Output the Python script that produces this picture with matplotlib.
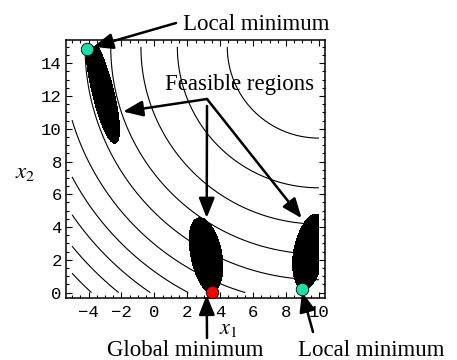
import numpy as np
import matplotlib
matplotlib.use("Agg")
import matplotlib.pyplot as plt
from matplotlib.ticker import MultipleLocator

# problem domain
x1_range = [-5.0, 10.0]
x2_range = [0.0, 15.0]

# objective f = -(x1 - 10)^2 - (x2 - 15)^2, contour levels
obj_center = [10.0, 15.0]
obj_levels = [-416, -373, -330, -288, -245, -202, -160, -117, -74, -31]

# constraint: Branin(x) <= 5 gives the black feasible regions
branin_limit = 5.0

# marked optima
local_min_x1 = [-4.1, 9.0]
local_min_x2 = [14.9, 0.2]
global_min_x1 = [3.5]
global_min_x2 = [0.05]

xticks = [-4, -2, 0, 2, 4, 6, 8, 10]
yticks = [0, 2, 4, 6, 8, 10, 12, 14]


def branin(x1, x2):
    b = 5.1 / (4 * np.pi ** 2)
    c = 5 / np.pi
    t = 1 / (8 * np.pi)
    return (x2 - b * x1 ** 2 + c * x1 - 6) ** 2 + 10 * (1 - t) * np.cos(x1) + 10


def objective(x1, x2):
    return -(x1 - obj_center[0]) ** 2 - (x2 - obj_center[1]) ** 2


plt.rcParams["font.family"] = ["Liberation Serif", "DejaVu Serif"]
plt.rcParams["mathtext.fontset"] = "stix"

W, H = 457, 360
fig = plt.figure(figsize=(W / 100, H / 100), dpi=100)
ax = fig.add_axes([66 / W, 62 / H, 259 / W, 258 / H])

g1 = np.linspace(*x1_range, 500)
g2 = np.linspace(*x2_range, 500)
X1, X2 = np.meshgrid(g1, g2)

ax.contour(X1, X2, objective(X1, X2), levels=obj_levels, colors="k",
           linewidths=0.8, linestyles="solid", zorder=1)
ax.contourf(X1, X2, branin(X1, X2), levels=[0, branin_limit], colors="k", zorder=2)

ax.plot(local_min_x1, local_min_x2, "o", ms=9, mfc="#20dca8", mec="k", mew=0.6, zorder=4, clip_on=False)
ax.plot(global_min_x1, global_min_x2, "o", ms=9, mfc="#ff0000", mec="k", mew=0.6, zorder=4, clip_on=False)

ax.set_xlim(-5.37, 10.37)
ax.set_ylim(-0.33, 15.42)
ax.set_xticks(xticks)
ax.set_yticks(yticks)
ax.xaxis.set_minor_locator(MultipleLocator(0.5))
ax.yaxis.set_minor_locator(MultipleLocator(0.5))
ax.tick_params(which="both", direction="in", top=True, right=True, width=0.8)
ax.tick_params(which="major", length=4)
ax.tick_params(which="minor", length=2)
ax.tick_params(axis="x", pad=5)
ax.tick_params(axis="y", pad=3)
ax.tick_params(labelfontfamily="Liberation Mono", labelsize=12.5)
for sp in ax.spines.values():
    sp.set_linewidth(1.1)


def fig_xy(px, py):
    # pixel position measured from the top-left corner of the image
    return (px, H - py)


arrow = dict(arrowstyle="-|>,head_length=0.6,head_width=0.24", color="k",
             lw=1.8, mutation_scale=20, shrinkA=0, shrinkB=0)

fs = 16.5
fig.text(183 / W, 1 - 30 / H, "Local minimum", fontsize=fs, va="baseline")
fig.text(165 / W, 1 - 90 / H, "Feasible regions", fontsize=fs, va="baseline")
fig.text(107 / W, 1 - 356 / H, "Global minimum", fontsize=fs, va="baseline")
fig.text(298 / W, 1 - 356 / H, "Local minimum", fontsize=fs, va="baseline")
fig.text(228 / W, 1 - 334 / H, "$x_1$", fontsize=16, ha="center", va="baseline")
fig.text(15 / W, 1 - 178 / H, "$x_2$", fontsize=16.5, ha="left", va="baseline")

# arrow heads in data units, tails in image pixels
ax.annotate("", xy=(-3.72, 15.0), xytext=fig_xy(176, 23), textcoords="figure pixels",
            arrowprops=arrow, annotation_clip=False)
ax.annotate("", xy=(-1.9, 11.05), xytext=fig_xy(207, 99), textcoords="figure pixels",
            arrowprops=arrow, annotation_clip=False)
ax.annotate("", xy=(3.18, 4.56), xytext=fig_xy(207, 106), textcoords="figure pixels",
            arrowprops=arrow, annotation_clip=False)
ax.annotate("", xy=(8.95, 4.54), xytext=fig_xy(207, 99), textcoords="figure pixels",
            arrowprops=arrow, annotation_clip=False)
ax.annotate("", xy=(3.18, -0.14), xytext=fig_xy(207, 338), textcoords="figure pixels",
            arrowprops=arrow, annotation_clip=False)
ax.annotate("", xy=(8.97, 0.04), xytext=fig_xy(313, 332), textcoords="figure pixels",
            arrowprops=arrow, annotation_clip=False)

fig.savefig("out.png", dpi=100)
